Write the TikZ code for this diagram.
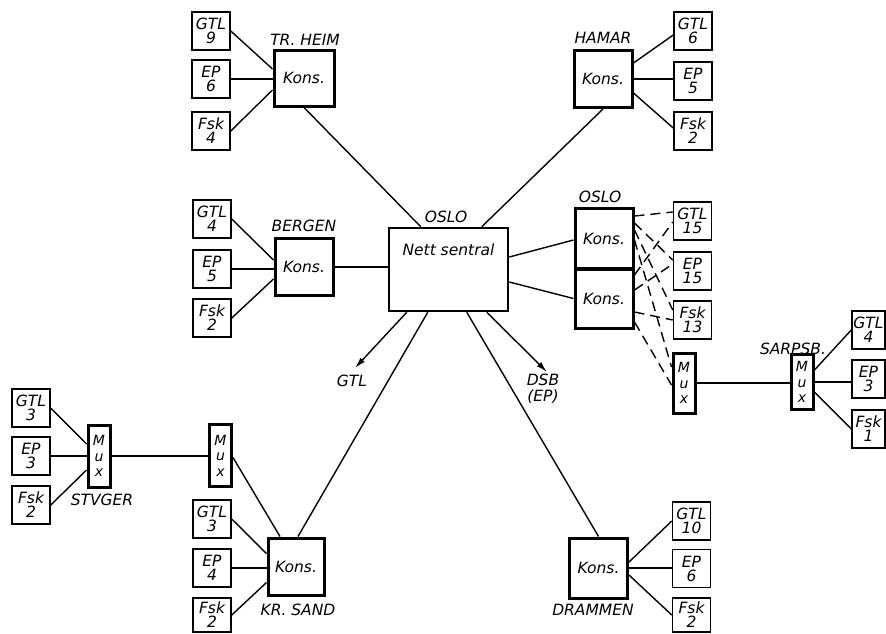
\documentclass[tikz,border=0pt]{standalone}
\usepackage{fontspec}
\setmainfont{DejaVu Sans}
\usetikzlibrary{calc,arrows.meta}
\begin{document}
\begin{tikzpicture}[x=1pt,y=-1pt,
  every node/.style={font=\itshape\fontsize{15.5}{14}\selectfont},
  sbox/.style={draw,line width=1.5pt,minimum width=38pt,minimum height=38pt,inner sep=0pt,align=center},
  kons/.style={draw,line width=3pt,minimum width=58pt,minimum height=57pt,inner sep=0pt},
  mux/.style={draw,line width=3pt,minimum width=22pt,minimum height=60pt,inner sep=0pt,align=center,font=\itshape\fontsize{14}{15.5}\selectfont},
  conn/.style={line width=1.4pt},
  dconn/.style={line width=1.4pt,dash pattern=on 10pt off 6pt},
  lbl/.style={inner sep=0pt},
  arr/.style={line width=1.4pt,-{Latex[length=11pt,width=6pt]}}
]
\useasboundingbox (0,0) rectangle (886,633);

% TR.HEIM
\node[sbox] (thg) at (211,31) {GTL\\9};
\node[sbox] (the) at (211,79) {EP\\6};
\node[sbox] (thf) at (211,131) {Fsk\\4};
\node[kons,minimum width=60pt,minimum height=56pt] (thk) at (304,78) {Kons.};
\node[lbl] (thl) at (305,40) {TR. HEIM};

% HAMAR
\node[kons] (hak) at (603,79) {Kons.};
\node[lbl] (hal) at (603,38) {HAMAR};
\node[sbox] (hag) at (693,31) {GTL\\6};
\node[sbox] (hae) at (693,81) {EP\\5};
\node[sbox] (haf) at (693,131) {Fsk\\2};

% BERGEN
\node[sbox] (beg) at (212,219) {GTL\\4};
\node[sbox] (bee) at (212,269) {EP\\5};
\node[sbox] (bef) at (212,318) {Fsk\\2};
\node[kons] (bek) at (304,267) {Kons.};
\node[lbl] (bel) at (304,226) {BERGEN};

% Nett sentral
\node[draw,line width=2.5pt,minimum width=119pt,minimum height=83pt,
      label={[anchor=north,yshift=-13pt]north:Nett sentral}] (ns) at (448.5,269.5) {};
\node[lbl] (nsl) at (446,217) {OSLO};

% OSLO Kons
\node[kons,minimum height=60pt] (ok1) at (604,238.5) {Kons.};
\node[kons,minimum height=59pt] (ok2) at (604,298.5) {Kons.};
\node[lbl] (okl) at (600,197) {OSLO};
\node[sbox] (og) at (692.5,221) {GTL\\15};
\node[sbox] (oe) at (692.5,271) {EP\\15};
\node[sbox] (of) at (692.5,320) {Fsk\\13};
\node[mux] (om) at (684,383) {M\\u\\x};

% SARPSB
\node[mux,minimum height=55pt] (sm) at (802,382) {M\\u\\x};
\node[lbl] (sml) at (793,349) {SARPSB.};
\node[sbox,minimum width=33pt] (sg) at (868.5,330) {GTL\\4};
\node[sbox,minimum width=33pt] (se) at (868.5,379) {EP\\3};
\node[sbox,minimum width=33pt] (sf) at (868.5,429) {Fsk\\1};

% STVGER
\node[sbox] (stg) at (31,408) {GTL\\3};
\node[sbox] (ste) at (31,456) {EP\\3};
\node[sbox] (stf) at (31,505) {Fsk\\2};
\node[mux,minimum height=62pt] (stm) at (99,456) {M\\u\\x};
\node[lbl] (stl) at (102,500) {STVGER};
\node[mux,minimum height=62pt] (ksm) at (220.5,455.5) {M\\u\\x};

% KR.SAND
\node[sbox] (ksg) at (212,519) {GTL\\3};
\node[sbox] (kse) at (212,568) {EP\\4};
\node[sbox,minimum height=34pt] (ksf) at (212,615) {Fsk\\2};
\node[kons,minimum width=56pt] (ksk) at (296,566.5) {Kons.};
\node[lbl] (ksl) at (298,610) {KR. SAND};

% DRAMMEN
\node[kons,minimum height=60pt] (drk) at (598.5,568) {Kons.};
\node[lbl] (drl) at (593,610) {DRAMMEN};
\node[sbox] (drg) at (691.5,521) {GTL\\10};
\node[sbox] (dre) at (691.5,568.5) {EP\\6};
\node[sbox,minimum height=34pt] (drf) at (691.5,615) {Fsk\\2};

% arrows' free ends and labels
\coordinate (gtlend) at (355,368);
\coordinate (dsbend) at (547,372);
\node[lbl] (gtll) at (352,381) {GTL};
\node[lbl,align=center,font=\itshape\fontsize{15.5}{16}\selectfont] (dsbl) at (543,389) {DSB\\(EP)};

% connectors TR.HEIM
\draw[conn] (thg.east) -- ($(thk.west)+(0,-9)$);
\draw[conn] (the.east) -- (the.east -| thk.west);
\draw[conn] (thf.east) -- ($(thk.west)+(0,12)$);
\draw[conn] (thk.south) -- ($(ns.north west)+(33,0)$);

% HAMAR
\draw[conn] ($(hak.east)+(0,-16)$) -- ($(hag.west)+(0,4)$);
\draw[conn] (hak.east) -- (hak.east -| hae.west);
\draw[conn] ($(hak.east)+(0,14)$) -- ($(haf.west)+(0,-3)$);
\draw[conn] (hak.south) -- ($(ns.north west)+(94,0)$);

% BERGEN
\draw[conn] (beg.east) -- ($(bek.west)+(0,-7)$);
\draw[conn] (bee.east) -- (bee.east -| bek.west);
\draw[conn] (bef.east) -- ($(bek.west)+(0,12)$);
\draw[conn] (bek.east) -- (bek.east -| ns.west);

% Nett to OSLO Kons
\draw[conn] ($(ns.east)+(0,-12.5)$) -- ($(ok1.west)+(0,1.5)$);
\draw[conn] ($(ns.east)+(0,12.5)$) -- (ok2.west);

% dashed OSLO
\draw[dconn] ($(ok1.east)+(0,-22.5)$) -- ($(og.west)+(0,-9)$);
\draw[dconn] ($(ok1.east)+(0,-15.5)$) -- ($(oe.west)+(0,-11)$);
\draw[dconn] ($(ok1.east)+(0,-8.5)$) -- ($(of.west)+(0,-10)$);
\draw[dconn] ($(ok1.east)+(0,1.5)$) -- ($(om.west)+(0,-16)$);
\draw[dconn] ($(ok2.east)+(0,-23.5)$) -- ($(og.west)+(0,1)$);
\draw[dconn] ($(ok2.east)+(0,-8.5)$) -- ($(oe.west)+(0,-7)$);
\draw[dconn] ($(ok2.east)+(0,13.5)$) -- (of.west);
\draw[dconn] ($(ok2.east)+(0,23.5)$) -- ($(om.west)+(0,2)$);

% SARPSB
\draw[conn] (om.east) -- (om.east -| sm.west);
\draw[conn] ($(sm.east)+(0,-12)$) -- (sg.west);
\draw[conn] (sm.east) -- (sm.east -| se.west);
\draw[conn] ($(sm.east)+(0,10)$) -- (sf.west);

% STVGER
\draw[conn] (stg.east) -- ($(stm.west)+(0,-12)$);
\draw[conn] (ste.east) -- (ste.east -| stm.west);
\draw[conn] (stf.east) -- ($(stm.west)+(0,14)$);
\draw[conn] (stm.east) -- (stm.east -| ksm.west);
\draw[conn] ($(ksm.east)+(0,2)$) -- ($(ksk.north)+(-16,0)$);

% KR.SAND
\draw[conn] (ksg.east) -- ($(ksk.west)+(0,-13)$);
\draw[conn] (kse.east) -- (kse.east -| ksk.west);
\draw[conn] (ksf.east) -- ($(ksk.west)+(0,16)$);
\draw[conn] ($(ns.south west)+(40,0)$) -- ($(ksk.north)+(2,0)$);

% DRAMMEN
\draw[conn] ($(ns.south west)+(79,0)$) -- (drk.north);
\draw[conn] ($(drk.east)+(0,-6)$) -- (drg.west);
\draw[conn] (drk.east) -- (drk.east -| dre.west);
\draw[conn] ($(drk.east)+(0,7)$) -- (drf.west);

% arrows
\draw[arr] ($(ns.south west)+(19,0)$) -- (gtlend);
\draw[arr] ($(ns.south west)+(99,0)$) -- (dsbend);
\end{tikzpicture}
\end{document}
